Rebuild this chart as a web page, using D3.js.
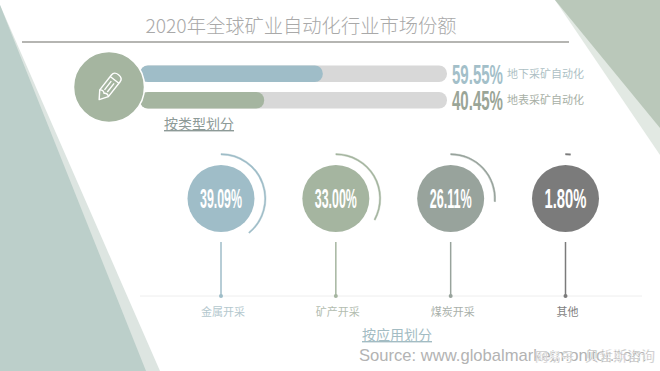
<!DOCTYPE html>
<html>
<head>
<meta charset="utf-8">
<script src="https://cdn.jsdelivr.net/npm/d3@7"></script>
<style>
    html, body { margin: 0; padding: 0; background: #fff; overflow: hidden; }
    svg { display: block; }
    text { font-family: "Noto Sans CJK SC", "Noto Sans", sans-serif; }
    .pct { font-family: "Liberation Sans", sans-serif; font-weight: 700; }
</style>
</head>
<body>
<div id="chart"></div>
<script>
"use strict"

let titleText = "2020年全球矿业自动化行业市场份额";

// share by mining type
let typeLabels = ["地下采矿自动化", "地表采矿自动化"];
let typeValues = [59.55, 40.45];
let typeColors = ["#9fbdc8", "#a5b5a0"];
let typeTextColors = ["#a3bfc9", "#9aa597"];

// share by application
let appLabels = ["金属开采", "矿产开采", "煤炭开采", "其他"];
let appValues = [39.09, 33.00, 26.11, 1.80];
let appColors = ["#9fbdc8", "#a5b5a0", "#98a39c", "#7b7b7b"];
let appLabelColors = ["#b4c8ce", "#b3bdb0", "#a9b0aa", "#7f7f7f"];

let svg = d3.select("#chart").append("svg")
    .attr("width", 660)
    .attr("height", 371);

drawBackground();
drawTitle();
drawTypeBars();
drawAppCircles();
drawFooter();

/* squeeze a text horizontally to a given width, the original uses a tall condensed face */
function fitWidth(selection, x, y, targetWidth, anchorMiddle) {
    selection.each(function() {
        let scaleX = targetWidth / this.getComputedTextLength();
        d3.select(this)
            .style("text-anchor", anchorMiddle ? "middle" : "start")
            .attr("transform", "translate(" + x + "," + y + ") scale(" + scaleX + ",1)");
    });
}

function drawBackground() {
    let polygons = [
        { fill: "#dde5e1", points: [[0, 5], [160, 371], [0, 371]] },
        { fill: "#bccfca", points: [[0, 5], [146, 371], [0, 371]] },
        { fill: "#e2e9e3", points: [[555, 0], [660, 155], [660, 0]] },
        { fill: "#bac8ba", points: [[555, 0], [660, 128], [660, 0]] }
    ];

    svg.selectAll(".bgPoly")
        .data(polygons)
        .enter().append("polygon")
        .attr("class", "bgPoly")
        .attr("points", d => d.points.join(" "))
        .style("fill", d => d.fill);
}

function drawTitle() {
    svg.append("text")
        .attr("x", 301)
        .attr("y", 33)
        .style("font-size", "19.3px")
        .style("font-weight", 300)
        .style("fill", "#a9a9a9")
        .style("text-anchor", "middle")
        .text(titleText);

    svg.append("line")
        .attr("x1", 22)
        .attr("x2", 569)
        .attr("y1", 42)
        .attr("y2", 42)
        .style("stroke", "#b5b5b2")
        .style("stroke-width", 2);
}

function drawTypeBars() {
    let xScale = d3.scaleLinear().domain([0, 100]).range([140, 447]);
    let yScale = d3.scaleBand().domain(typeLabels).range([65.5, 108.5]).paddingInner(0.377);

    let rows = svg.selectAll(".typeRow")
        .data(typeLabels)
        .enter().append("g")
        .attr("class", "typeRow")
        .attr("transform", d => "translate(0," + yScale(d) + ")");

    rows.append("rect")
        .attr("x", xScale(0))
        .attr("width", xScale(100) - xScale(0))
        .attr("height", yScale.bandwidth())
        .attr("rx", 8)
        .style("fill", "#d8d8d8");

    rows.append("rect")
        .attr("x", xScale(0))
        .attr("width", (d, i) => xScale(typeValues[i]) - xScale(0))
        .attr("height", yScale.bandwidth())
        .attr("rx", 8)
        .style("fill", (d, i) => typeColors[i]);

    rows.append("text")
        .attr("class", "pct")
        .style("font-size", "27px")
        .style("fill", (d, i) => typeTextColors[i])
        .text((d, i) => typeValues[i].toFixed(2) + "%")
        .call(fitWidth, 452, yScale.bandwidth() + 1.5, 51, false);

    rows.append("text")
        .attr("x", 507)
        .attr("y", yScale.bandwidth() / 2 + 4)
        .style("font-size", "11px")
        .style("fill", (d, i) => i === 0 ? "#adbfc4" : "#a7afa5")
        .text(d => d);

    // big circle sits on top of the bar ends
    svg.append("circle")
        .attr("cx", 109)
        .attr("cy", 87)
        .attr("r", 35.5)
        .style("fill", "#a5b5a0")
        .style("stroke", "#fff")
        .style("stroke-width", 1.5);

    // pencil icon
    let pencil = svg.append("g")
        .attr("transform", "translate(109,87) rotate(38)")
        .style("fill", "none")
        .style("stroke", "#fff")
        .style("stroke-width", 1.4)
        .style("stroke-linejoin", "round");

    pencil.append("path").attr("d", "M-5.5,-11 Q-5.5,-15.5 0,-15.5 Q5.5,-15.5 5.5,-11 L5.5,8 L0,16 L-5.5,8 Z");
    pencil.append("path").attr("d", "M-5.5,-9 L5.5,-9 M-5.5,8 Q-2.7,5.5 0,8 Q2.7,5.5 5.5,8 M-1.8,-6 L-1.8,5 M1.8,-6 L1.8,5");

    svg.append("text")
        .attr("x", 199)
        .attr("y", 129)
        .style("font-size", "14px")
        .style("fill", "#8d9a97")
        .style("text-anchor", "middle")
        .style("text-decoration", "underline")
        .text("按类型划分");
}

function drawAppCircles() {
    let xScale = d3.scalePoint().domain(appLabels).range([221, 565.5]);
    let angleScale = d3.scaleLinear().domain([0, 100]).range([0, 2 * Math.PI]);
    let centerY = 198.5;
    let baseY = 296;

    svg.append("line")
        .attr("x1", 140)
        .attr("x2", 642)
        .attr("y1", baseY)
        .attr("y2", baseY)
        .style("stroke", "#eeeeee")
        .style("stroke-width", 1);

    let groups = svg.selectAll(".appGroup")
        .data(appLabels)
        .enter().append("g")
        .attr("class", "appGroup")
        .attr("transform", d => "translate(" + xScale(d) + ",0)");

    groups.append("circle")
        .attr("cy", centerY)
        .attr("r", 33.5)
        .style("fill", (d, i) => appColors[i]);

    let arc = d3.arc()
        .innerRadius(43.5)
        .outerRadius(45)
        .startAngle(0);

    groups.append("path")
        .attr("transform", "translate(0," + centerY + ")")
        .attr("d", (d, i) => arc({ endAngle: angleScale(appValues[i]) }))
        .style("fill", (d, i) => appColors[i])
        .style("stroke", (d, i) => appColors[i])
        .style("stroke-width", 0.4);

    groups.append("text")
        .attr("class", "pct")
        .style("font-size", "27px")
        .style("fill", "#fff")
        .text((d, i) => appValues[i].toFixed(2) + "%")
        .call(fitWidth, 0, centerY + 9.5, 42, true);

    groups.append("line")
        .attr("y1", 242)
        .attr("y2", baseY)
        .style("stroke", (d, i) => appColors[i])
        .style("stroke-width", 1.5);

    groups.append("circle")
        .attr("cy", baseY)
        .attr("r", 2)
        .style("fill", (d, i) => appColors[i]);

    groups.append("text")
        .attr("x", 2)
        .attr("y", 316)
        .style("font-size", "11px")
        .style("fill", (d, i) => appLabelColors[i])
        .style("text-anchor", "middle")
        .text(d => d);
}

function drawFooter() {
    svg.append("text")
        .attr("x", 397)
        .attr("y", 340)
        .style("font-size", "14px")
        .style("fill", "#a3bcc3")
        .style("text-anchor", "middle")
        .style("text-decoration", "underline")
        .text("按应用划分");

    svg.append("text")
        .attr("x", 359)
        .attr("y", 361)
        .style("font-family", "'Liberation Sans', sans-serif")
        .style("font-size", "16.6px")
        .style("fill", "#b3b3b3")
        .text("Source: www.globalmarketmonitor.com");

    // watermark over the source line
    svg.append("text")
        .attr("x", 535)
        .attr("y", 361)
        .style("font-size", "13px")
        .style("fill", "#8f8f8f")
        .style("stroke", "#fff")
        .style("stroke-width", 0.5)
        .text("网易号");

    svg.append("text")
        .attr("x", 585)
        .attr("y", 361)
        .style("font-size", "14px")
        .style("fill", "#8f8f8f")
        .style("stroke", "#fff")
        .style("stroke-width", 0.5)
        .text("贝哲斯咨询");
}
</script>
</body>
</html>
